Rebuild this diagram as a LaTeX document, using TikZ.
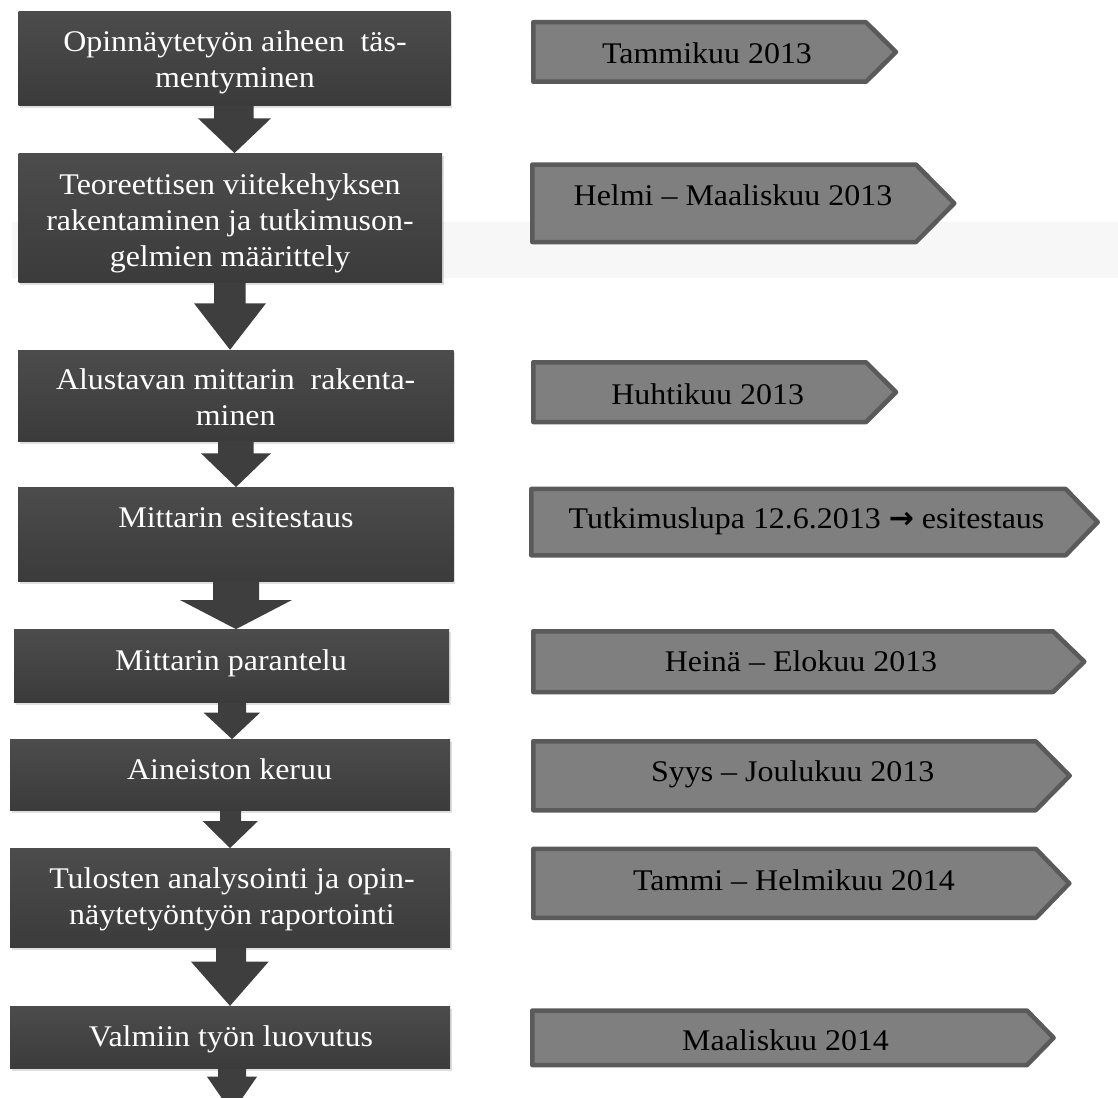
\documentclass[tikz,border=0pt]{standalone}
\usepackage{fontspec}
\setmainfont[FakeStretch=1.065]{Liberation Serif}
\newfontfamily\arrfont{DejaVu Sans}
\usetikzlibrary{shadows}
\definecolor{boxtop}{HTML}{4C4C4C}
\definecolor{boxbot}{HTML}{3B3B3B}
\definecolor{arrfill}{HTML}{3E3E3E}
\definecolor{chevfill}{HTML}{7F7F7F}
\definecolor{chevline}{HTML}{5A5A5A}
\definecolor{bandcol}{HTML}{F7F7F7}
\newcommand\lst{\rule[-7pt]{0pt}{28pt}}
\newcommand\chevpath[5]{%
  \draw[chev] ({#1+2.25},{#2+2.25}) -- ({#4-1},{#2+2.25}) -- ({#5-3},{(#2+#3)/2}) -- ({#4-1},{#3-2.25}) -- ({#1+2.25},{#3-2.25}) -- cycle;}
\newcommand\blockarr[8]{%
  \fill[barrow] (#3,0 |- #1) -- (#3,#7) -- (#5,#7) -- (#8,0 |- #2) -- (#6,#7) -- (#4,#7) -- (#4,0 |- #1) -- cycle;}
\tikzset{
  lbox/.style={rectangle, inner sep=0pt, top color=boxtop, bottom color=boxbot,
    drop shadow={opacity=0.25, shadow xshift=1.5pt, shadow yshift=-2.5pt}},
  ltext/.style={text=white, align=center, font=\fontsize{30}{36}\selectfont, inner sep=0pt},
  ctext/.style={text=black, font=\fontsize{30}{36}\selectfont, inner sep=0pt, anchor=base},
  chev/.style={fill=chevfill, draw=chevline, line width=4.5pt, line join=round},
  barrow/.style={fill=arrfill},
}
\begin{document}
\begin{tikzpicture}[x=1pt,y=-1pt]
\useasboundingbox (0,0) rectangle (1118,1097);
\clip (0,0) rectangle (1118,1097);
% faint band
\fill[bandcol] (11.8,221.7) rectangle (1118,277.7);

% left boxes
\node[lbox, minimum width=432pt, minimum height=94pt]   (b1) at (234.7,58.7) {};
\node[lbox, minimum width=423.4pt, minimum height=129.4pt] (b2) at (230.3,218) {};
\node[lbox, minimum width=435.6pt, minimum height=91pt]  (b3) at (235.8,395.5) {};
\node[lbox, minimum width=435.6pt, minimum height=93.7pt] (b4) at (235.8,534.2) {};
\node[lbox, minimum width=435pt, minimum height=73.4pt]  (b5) at (231.5,666) {};
\node[lbox, minimum width=440pt, minimum height=71.4pt]  (b6) at (230,775) {};
\node[lbox, minimum width=440pt, minimum height=99.4pt]  (b7) at (230,898) {};
\node[lbox, minimum width=440pt, minimum height=62.3pt]  (b8) at (230,1037.2) {};
\coordinate (endtip) at (232,1113);

% block arrows
\blockarr{b1.south}{b2.north}{214}{253.6}{198}{271}{118.3}{234.5}
\blockarr{b2.south}{b3.north}{214}{245.7}{194}{266}{303.3}{230}
\blockarr{b3.south}{b4.north}{218}{253.6}{201}{271}{453.3}{236}
\blockarr{b4.south}{b5.north}{213}{259}{180}{292}{600}{236}
\blockarr{b5.south}{b6.north}{218}{246}{203.6}{260}{712.7}{232}
\blockarr{b6.south}{b7.north}{220}{241}{202.5}{258}{821}{230}
\blockarr{b7.south}{b8.north}{216}{246}{191}{268.6}{961.7}{230}
\blockarr{b8.south}{endtip}{218}{246}{207}{257}{1076.7}{232}

% left texts
\node[ltext] (t1) at (235,63) {\lst Opinnäytetyön aiheen\ \ täs-\\\lst mentyminen};
\node[ltext] (t2) at (230,223) {\lst Teoreettisen viitekehyksen\\\lst rakentaminen ja tutkimuson-\\\lst gelmien määrittely};
\node[ltext] (t3) at (235.7,400) {\lst Alustavan mittarin\ \ rakenta-\\\lst minen};
\node[ltext] (t4) at (236,520) {\lst Mittarin esitestaus};
\node[ltext] (t5) at (231,663) {\lst Mittarin parantelu};
\node[ltext] (t6) at (229.6,772) {\lst Aineiston keruu};
\node[ltext] (t7) at (232,899) {\lst Tulosten analysointi ja opin-\\\lst näytetyöntyön raportointi};
\node[ltext] (t8) at (231,1039.7) {\lst Valmiin työn luovutus};

% right chevrons
\chevpath{531}{20}{84}{867}{899}
\chevpath{530}{162.3}{244.3}{917}{957.3}
\chevpath{531}{360}{424.3}{867}{899}
\chevpath{529}{486.7}{557.5}{1066.7}{1100.7}
\chevpath{531}{629}{694.3}{1054}{1087.3}
\chevpath{531}{739}{812.5}{1036.7}{1072.7}
\chevpath{531}{846.7}{920}{1037}{1072.3}
\chevpath{530}{1008.3}{1067.3}{1028}{1056.6}

\node[ctext] (d1) at (707,64) {Tammikuu 2013};
\node[ctext] (d2) at (733,205) {Helmi – Maaliskuu 2013};
\node[ctext] (d3) at (707.7,404) {Huhtikuu 2013};
\node[ctext] (d4) at (806.5,528.3) {Tutkimuslupa 12.6.2013 {\arrfont\bfseries →} esitestaus};
\node[ctext] (d5) at (801,671.7) {Heinä – Elokuu 2013};
\node[ctext] (d6) at (792.7,781.7) {Syys – Joulukuu 2013};
\node[ctext] (d7) at (794,890) {Tammi – Helmikuu 2014};
\node[ctext] (d8) at (785.6,1050.7) {Maaliskuu 2014};
\end{tikzpicture}
\end{document}
